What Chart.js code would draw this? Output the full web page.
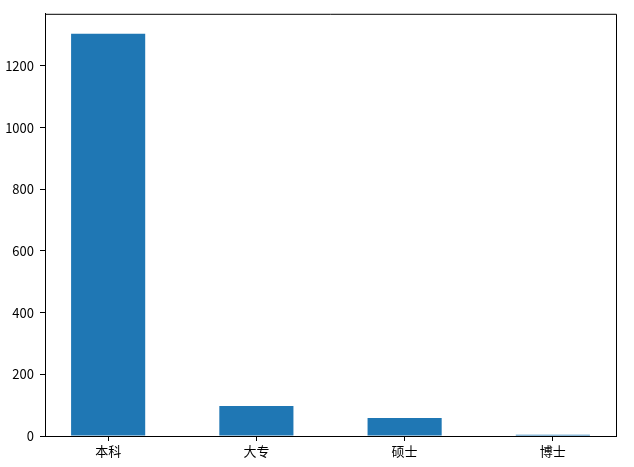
<!DOCTYPE html>
<html>
<head>
<meta charset="utf-8">
<script src="https://cdn.jsdelivr.net/npm/chart.js@4"></script>
<style>
  html, body { margin: 0; padding: 0; background: #ffffff; }
  #wrap { width: 634px; height: 467px; position: relative; }
</style>
</head>
<body>
<div id="wrap"><canvas id="eduChart"></canvas></div>
<script>
// Education level counts
const categories = ['本科', '大专', '硕士', '博士'];
const counts = [1304, 97, 58, 4];
const yTicks = [0, 200, 400, 600, 800, 1000, 1200];

const fontFamily = '"Noto Sans CJK SC", "DejaVu Sans", sans-serif';

// Draws the top and right sides of the axes frame
const framePlugin = {
    id: 'frame',
    afterDraw(chart) {
        const { ctx, chartArea: a } = chart;
        ctx.save();
        ctx.strokeStyle = '#000000';
        ctx.lineWidth = 1;
        ctx.beginPath();
        ctx.moveTo(a.left, a.top + 0.5);
        ctx.lineTo(a.right + 0.5, a.top + 0.5);
        ctx.lineTo(a.right + 0.5, a.bottom);
        ctx.stroke();
        ctx.restore();
    }
};

const ctx = document.getElementById('eduChart');

new Chart(ctx, {
    type: 'bar',
    data: {
        datasets: [{
            data: counts.map((v, i) => ({ x: i, y: v })),
            backgroundColor: '#1f77b4',
            borderColor: '#1f77b4',
            borderWidth: 0,
            barPercentage: 1.0,
            categoryPercentage: 0.5
        }]
    },
    options: {
        responsive: true,
        maintainAspectRatio: false,
        animation: false,
        layout: { padding: { top: 11, right: 18, left: 0, bottom: 0 } },
        plugins: {
            legend: { display: false },
            tooltip: { enabled: false }
        },
        scales: {
            x: {
                type: 'linear',
                offset: false,
                min: -0.426,
                max: 3.426,
                afterBuildTicks: (scale) => {
                    scale.ticks = categories.map((c, i) => ({ value: i }));
                },
                afterFit: (scale) => { scale.height = 31; },
                grid: {
                    offset: false,
                    drawOnChartArea: false,
                    drawTicks: true,
                    tickLength: 5,
                    color: '#000000'
                },
                border: { display: true, color: '#000000', width: 1 },
                ticks: {
                    color: '#000000',
                    padding: 2,
                    maxRotation: 0,
                    autoSkip: false,
                    font: { family: fontFamily, size: 13 },
                    callback: (value) => categories[value]
                }
            },
            y: {
                min: 0,
                max: 1369,
                afterBuildTicks: (scale) => {
                    scale.ticks = yTicks.map(v => ({ value: v }));
                },
                afterFit: (scale) => { scale.width = 45; },
                grid: {
                    drawOnChartArea: false,
                    drawTicks: true,
                    tickLength: 5,
                    color: '#000000'
                },
                border: { display: true, color: '#000000', width: 1 },
                ticks: {
                    color: '#000000',
                    padding: 6,
                    font: { family: fontFamily, size: 13 },
                    callback: (value) => String(value)
                }
            }
        }
    },
    plugins: [framePlugin]
});
</script>
</body>
</html>
